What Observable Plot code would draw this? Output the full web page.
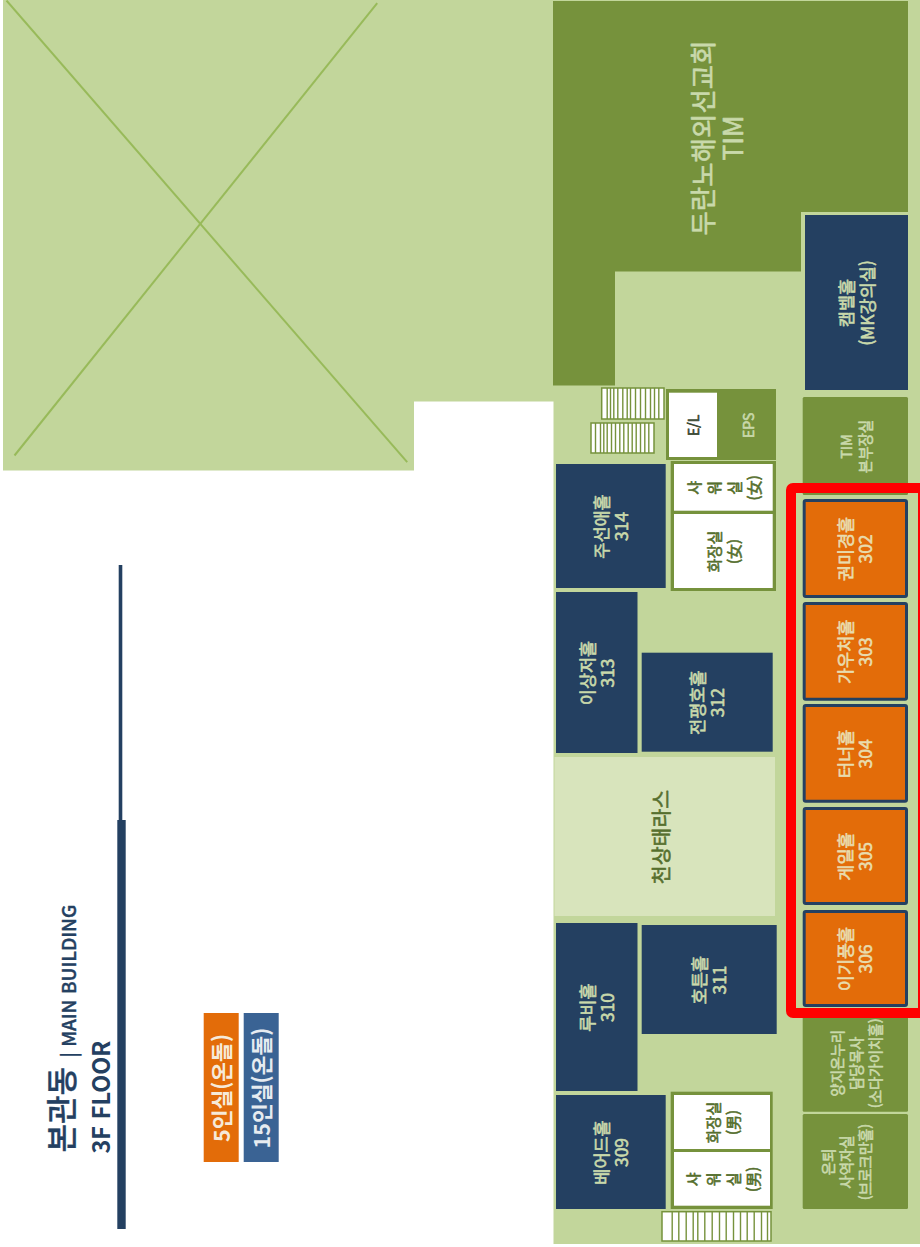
<!DOCTYPE html>
<html lang="ko">
<head>
<meta charset="utf-8">
<style>
html,body{margin:0;padding:0;background:#fff}
svg{display:block}
</style>
<script src="https://cdn.jsdelivr.net/npm/d3@7"></script>
<script src="https://cdn.jsdelivr.net/npm/@observablehq/plot@0.6"></script>
</head>
<body>
<script>
// Floor-plan extents, in plan units, each as [label, x1, y1, x2, y2]
const siteAreas = [["",3,0,414,470.5],["",414,0,920,401.5],["",553.5,401,920,1244]];
const terrace = [["천상태라스",554.5,757,775,916]];
const missionBlock = [["",553,1,908,212],["",553,212,801,271.5],["",553,271,615,385.5]];
const missionLabel = [["두란노해외선교회\nTIM",553,1,882,274]];
const lectureHalls = [
  ["캠벨홀\n(MK강의실)",805,215,908,390],
  ["주선애홀\n314",556,464,665.7,588],
  ["이상저홀\n313",556,592,637.5,753],
  ["전평호홀\n312",641.7,652.7,772.7,751.7],
  ["호튼홀\n311",641.7,925,776.7,1034],
  ["루비홀\n310",556,923,637.5,1091],
  ["베어드홀\n309",556,1095,665.7,1209]
];
const smallRooms = [
  ["권미경홀\n302",802.7,499,908,598],
  ["가우처홀\n303",802.7,602,908,700.7],
  ["터너홀\n304",802.7,704,908,802.7],
  ["게일홀\n305",802.7,807,908,905],
  ["이기풍홀\n306",802.7,910,908,1007]
];
const officeRooms = [
  ["TIM\n본부장실",802.7,397,908,495],
  ["양지온누리\n담당목사\n(소다가이치홀)",802.7,1014,908,1111.7],
  ["은퇴\n사역자실\n(브로크만홀)\n",802.7,1114,908,1209]
];
const serviceFrames = [["",670.7,461,776,591],["",670.7,1091.7,772.7,1209]];
const restrooms = [
  ["샤\n워\n실\n(女)",674,464,772.7,510.7],
  ["화장실\n(女)",674,514,772.7,588],
  ["화장실\n(男)",674,1095,770,1149],
  ["샤\n워\n실\n(男)",674,1152,770,1205.7]
];
const epsBlock = [["",666,389,776,460]];
const elevator = [["E/L",669,392.7,717,457]];
const epsLabel = [["EPS",720,392.7,776,457]];

// Stairs: outline extents and tread positions read from the plan
const stairs = [["",601.7,388,664,419],["",591,423,654,453],["",662,1211.7,771,1241]];
const treadsA = [606.7,610,613.3,617.3,622.3,626.7,630,635,640,645,650,654,658.3];
const treadsB = [595,600,603.3,606.7,611,615,619.3,623.3,627.7,631.7,635.7,640,644.3,648.3];
const treadsC = [671.7,678.3,685.7,692.7,697.3,704.3,711.7,719,725.7,733,740,746.7,753.7,761,767];

// Crossed-out void
const voidLines = [["",6,0,406.7,461.7],["",376.7,2.7,14,455]];

// Highlight and rule
const highlight = [["",791,488,923,1013]];
const rules = [["",118.7,565,122.3,820],["",117.3,820,125.7,1229]];

// Title and legend
const titleKo = ["본관동"];
const titleEn = ["| MAIN BUILDING"];
const titleFloor = ["3F FLOOR"];
const legend5 = [["5인실(온돌)",203.7,1013,238.7,1162]];
const legend15 = [["15인실(온돌)",243.7,1013,278.7,1162]];

const FONT = '"Noto Sans CJK KR", "Noto Sans", sans-serif';
const GREEN = "#76923c", LIGHT = "#c2d69b", NAVY = "#244061", ORANGE = "#e36c09";
const ROOM_TEXT = "#c9d9ab", DARK_TEXT = "#566f2e";

const box = (data, opts) => Plot.rect(data, {x1: d => d[1], y1: d => d[2], x2: d => d[3], y2: d => d[4], ...opts});
const label = (data, opts) => Plot.text(data, {
  x: d => (d[1] + d[3]) / 2, y: d => (d[2] + d[4]) / 2, text: d => d[0],
  rotate: -90, fontFamily: FONT, lineHeight: 1.15, strokeWidth: 0.6, stroke: opts.fill, ...opts
});
const heading = (data, x, y, opts) => Plot.text(data, {
  x, y, text: d => d, rotate: -90, textAnchor: "start", fontFamily: FONT, fill: NAVY, ...opts
});
const treads = (xs, s) => Plot.ruleX(xs, {x: d => d, y1: s[2], y2: s[4], stroke: GREEN, strokeWidth: 1.4});

const plot = Plot.plot({
  width: 920, height: 1247,
  marginTop: 0, marginRight: 0, marginBottom: 0, marginLeft: 0,
  x: {domain: [0, 920], range: [0, 920], axis: null},
  y: {domain: [0, 1247], range: [0, 1247], axis: null},
  style: {background: "#fff"},
  marks: [
    box(siteAreas, {fill: LIGHT}),
    box(terrace, {fill: "#d8e4bc"}),
    Plot.link(voidLines, {x1: d => d[1], y1: d => d[2], x2: d => d[3], y2: d => d[4], stroke: "#98ba5a", strokeWidth: 2}),

    box(missionBlock, {fill: GREEN}),
    box(officeRooms, {fill: GREEN, rx: 1.5}),
    box(lectureHalls, {fill: NAVY}),
    box(smallRooms, {fill: ORANGE, stroke: NAVY, strokeWidth: 3, inset: 1.5, rx: 1.5}),
    box(serviceFrames, {fill: GREEN}),
    box(restrooms, {fill: "#fff"}),
    box(epsBlock, {fill: GREEN}),
    box(elevator, {fill: "#fff"}),

    box(stairs, {fill: "#fff", stroke: GREEN, strokeWidth: 1.5}),
    treads(treadsA, stairs[0]),
    treads(treadsB, stairs[1]),
    treads(treadsC, stairs[2]),

    box(highlight, {fill: "none", stroke: "#ff0000", strokeWidth: 10, rx: 2}),

    label(missionLabel, {fill: ROOM_TEXT, fontSize: 26.5, lineHeight: 1.13}),
    label(lectureHalls, {fill: ROOM_TEXT, fontSize: 17.5}),
    label(smallRooms, {fill: "#e9dcae", fontSize: 17.5}),
    label(officeRooms, {fill: ROOM_TEXT, fontSize: 14.5, lineHeight: 1.3}),
    label(restrooms, {fill: DARK_TEXT, fontSize: 15, lineHeight: 1.33}),
    label(terrace, {fill: DARK_TEXT, fontSize: 20.5, dx: -4}),
    label(elevator, {fill: "#37452f", fontSize: 14}),
    label(epsLabel, {fill: ROOM_TEXT, fontSize: 14}),

    box(rules, {fill: NAVY}),
    heading(titleKo, 63, 1152, {fontSize: 31, fontWeight: 500, strokeWidth: 0.4, stroke: NAVY}),
    heading(titleEn, 69, 1057, {fontSize: 19, fontWeight: 500, strokeWidth: 0.4, stroke: NAVY}),
    heading(titleFloor, 102, 1153, {fontSize: 23.5, fontWeight: 700}),

    box(legend5, {fill: ORANGE}),
    box(legend15, {fill: "#3a6394"}),
    label(legend5, {fill: "#f6ead9", fontSize: 21.5, fontWeight: 700, strokeWidth: 0}),
    label(legend15, {fill: "#e6ebf0", fontSize: 21.5, fontWeight: 700, strokeWidth: 0})
  ]
});
document.body.appendChild(plot);
</script>
</body>
</html>
